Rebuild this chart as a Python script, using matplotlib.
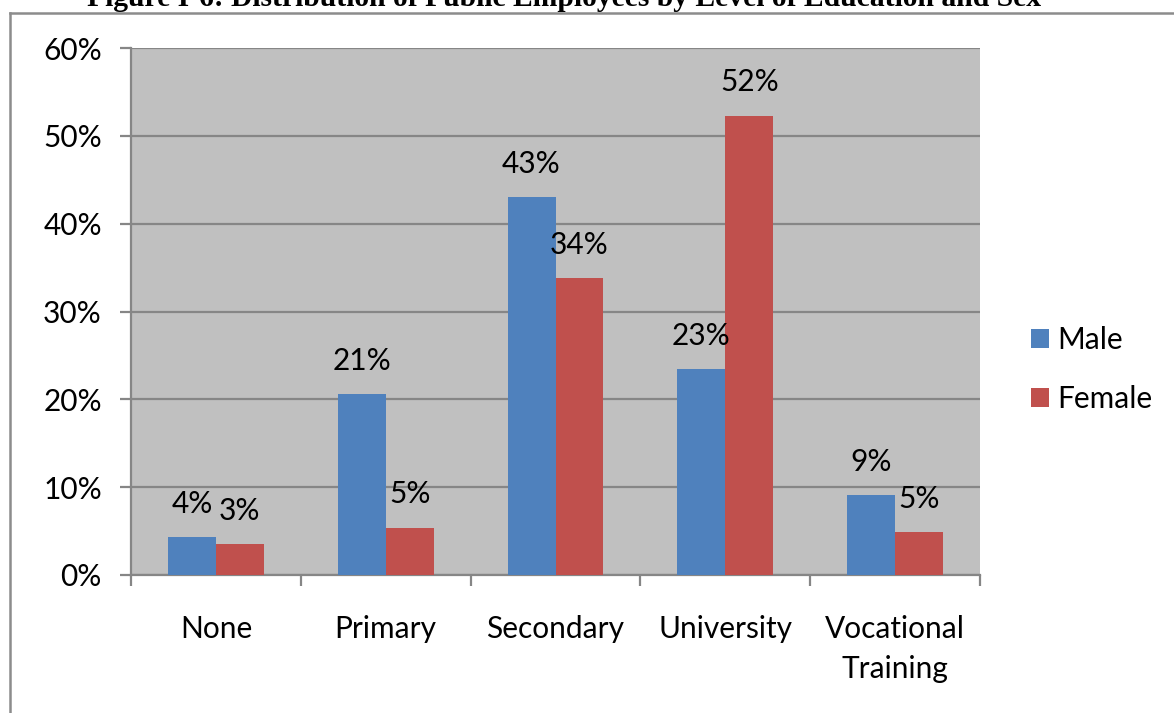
import numpy as np
import matplotlib
matplotlib.use('Agg')
import matplotlib.pyplot as plt
from matplotlib.lines import Line2D

# chart data
categories = ['None', 'Primary', 'Secondary', 'University', 'Vocational\nTraining']
male = [4.3, 20.6, 43.0, 23.4, 9.1]
female = [3.5, 5.4, 33.8, 52.3, 4.9]
male_labels = ['4%', '21%', '43%', '23%', '9%']
female_labels = ['3%', '5%', '34%', '52%', '5%']
yticks = [0, 10, 20, 30, 40, 50, 60]

blue = '#4F81BD'
red = '#C0504D'
grey = '#868686'
fs = 21.5

plt.rcParams['font.family'] = ['Lato', 'DejaVu Sans']

fig = plt.figure(figsize=(11.74, 7.13), dpi=100)
ax = fig.add_axes([131/1174, 1 - 575/713, (980 - 131)/1174, (575 - 48)/713])
ax.set_facecolor('#C0C0C0')

x = np.arange(len(categories))
w = 0.282
bm = ax.bar(x - w/2, male, w, color=blue, label='Male', zorder=3)
bf = ax.bar(x + w/2, female, w, color=red, label='Female', zorder=3)

# data labels above bars
for i in range(len(categories)):
    ax.annotate(male_labels[i], (x[i] - w/2, male[i]), xytext=(0, 14),
                textcoords='offset points', ha='center', va='bottom', fontsize=fs)
    ax.annotate(female_labels[i], (x[i] + w/2, female[i]), xytext=(0, 14),
                textcoords='offset points', ha='center', va='bottom', fontsize=fs)

ax.set_xlim(-0.5, 4.5)
ax.set_ylim(0, 60)
ax.set_yticks(yticks)
ax.set_yticklabels([f'{t}%' for t in yticks], fontsize=fs)
ax.yaxis.grid(True, color=grey, linewidth=1.6, zorder=1)
ax.set_axisbelow(True)

# category boundaries get the tick marks
ax.set_xticks(np.arange(-0.5, 5.0, 1.0))
ax.set_xticklabels([])
ax.set_xticks(x, minor=True)
ax.set_xticklabels(categories, minor=True, fontsize=fs, linespacing=1.5)
ax.tick_params(axis='x', which='minor', length=0, pad=29)
ax.tick_params(axis='x', which='major', length=8, width=1.6, color=grey, direction='out')
ax.tick_params(axis='y', length=8, width=1.6, color=grey, pad=13)

for s in ['left', 'bottom']:
    ax.spines[s].set_color(grey)
    ax.spines[s].set_linewidth(1.6)
ax.spines['right'].set_visible(False)
ax.spines['top'].set_visible(False)

leg = ax.legend(handles=[bm, bf], loc='center left', bbox_to_anchor=(1.028, 0.39),
                frameon=False, fontsize=fs, handlelength=0.6, handleheight=0.6,
                handletextpad=0.3, labelspacing=1.05)

# outer chart frame (left and top edges visible)
fig.add_artist(Line2D([10/1174, 10/1174], [0, 1 - 13/713], color='#8C8C8C', lw=1.8))
fig.add_artist(Line2D([10/1174, 1], [1 - 13/713, 1 - 13/713], color='#8C8C8C', lw=1.8))

# figure title, cut at the top edge
fig.text(564/1174, 1 - 6/713, 'Figure I-6: Distribution of Public Employees by Level of Education and Sex',
         family='Liberation Serif', weight='bold', fontsize=21.3, ha='center', va='baseline')

fig.savefig('out.png', dpi=100)
